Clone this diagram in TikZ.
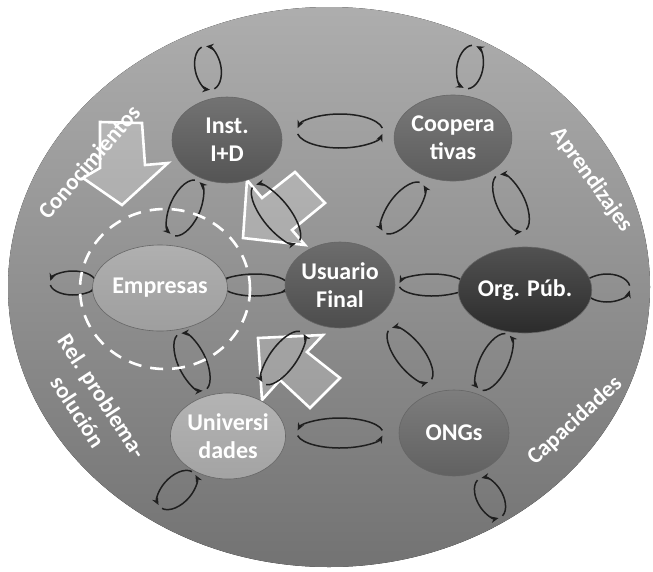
\documentclass[tikz,border=0pt]{standalone}
\usepackage{fontspec}
\setmainfont{Carlito}
\usetikzlibrary{arrows.meta,shapes.geometric}
\tikzset{
  actor/.style={ellipse,minimum width=110pt,minimum height=86pt,inner sep=0pt,
    draw=black!60,line width=0.6pt,text=white,align=center,
    font=\bfseries\fontsize{24}{28}\selectfont},
  tone/.style={bottom color=black!#1,top color=black!#1!white!82},
  flow/.style={draw=black!88,line width=1.5pt,-{Stealth[length=7.5pt,width=6.5pt]}},
  bigarrow/.style={draw=white,line width=2.6pt,fill=white,fill opacity=0.22,line join=miter},
  side/.style={text=white,align=center,font=\bfseries\fontsize{23}{29}\selectfont},
}
% exchange loop: centre, axis angle, half axes
\newcommand{\xchg}[4]{%
  \begin{scope}[shift={#1},rotate=#2]
    \draw[flow] (10:#3pt and #4pt) arc[start angle=10,end angle=170,x radius=#3pt,y radius=#4pt];
    \draw[flow] (190:#3pt and #4pt) arc[start angle=190,end angle=350,x radius=#3pt,y radius=#4pt];
  \end{scope}}

\begin{document}
\begin{tikzpicture}[x=1pt,y=1pt]
\useasboundingbox (0,0) rectangle (653,-571);
% backdrop
\fill[top color=black!32,bottom color=black!55] (329,-287) ellipse [x radius=321pt,y radius=280pt];
% block arrows
\path[bigarrow] (100,-122) -- (142,-123) -- (145,-165) -- (168,-163) -- (122,-205) -- (83,-178) -- (100,-168) -- cycle;
\path[bigarrow] (243,-238) -- (247,-180) -- (262,-198) -- (295,-172) -- (325,-203) -- (292,-230) -- (305,-245) -- cycle;
\path[bigarrow] (258,-338) -- (323,-335) -- (307,-352) -- (340,-378) -- (310,-408) -- (280,-380) -- (262,-400) -- cycle;
% exchanges between actors
\xchg{(340,-131)}{0}{43}{17}
\xchg{(185,-208)}{65.6}{30}{15}
\xchg{(276,-214)}{-52}{36}{14}
\xchg{(403,-208)}{52.4}{31}{14}
\xchg{(511,-203)}{-64.6}{31}{14}
\xchg{(255,-285)}{0}{33}{11}
\xchg{(432,-285)}{0}{33}{11}
\xchg{(192,-362)}{-65.3}{31}{14}
\xchg{(283,-358)}{53.4}{32}{13}
\xchg{(340,-433)}{0}{43}{15}
\xchg{(410,-355)}{-52.4}{33}{14}
\xchg{(494,-362)}{63.6}{31}{14}
% self loops
\xchg{(208,-68)}{101}{22}{13}
\xchg{(470,-67)}{79}{22}{13}
\xchg{(73,-283)}{0}{23}{12}
\xchg{(607,-288)}{0}{23}{14}
\xchg{(177,-490)}{45}{24}{14}
\xchg{(490,-498)}{-61}{22}{13}
% actors
\node[actor,tone=67] (inst) at (227,-140) {Inst.\\I+D};
\node[actor,tone=64] (coop) at (453,-138) {Coopera\\tivas};
\node[actor,tone=70] (user) at (340,-285) {Usuario\\Final};
\node[actor,tone=83] (org) at (525,-290) {Org. Púb.};
\node[actor,tone=38] (firms) at (160,-288) {Empresas};
\node[actor,tone=36] (univ) at (228,-436) {Universi\\dades};
\node[actor,tone=62] (ngo) at (454,-433) {ONGs};
\draw[white,line width=2.6pt,dash pattern=on 13pt off 9pt] (165,-289) ellipse [x radius=85pt,y radius=80pt];
% flow labels
\node[side,rotate=49] (know) at (89,-162) {Conocimientos};
\node[side,rotate=-54] (learn) at (592,-180) {Aprendizajes};
\node[side,rotate=42.5] (skill) at (575,-421) {Capacidades};
\node[side,rotate=-57] (probsol) at (90,-404) {Rel. problema-\\solución};
\end{tikzpicture}
\end{document}
